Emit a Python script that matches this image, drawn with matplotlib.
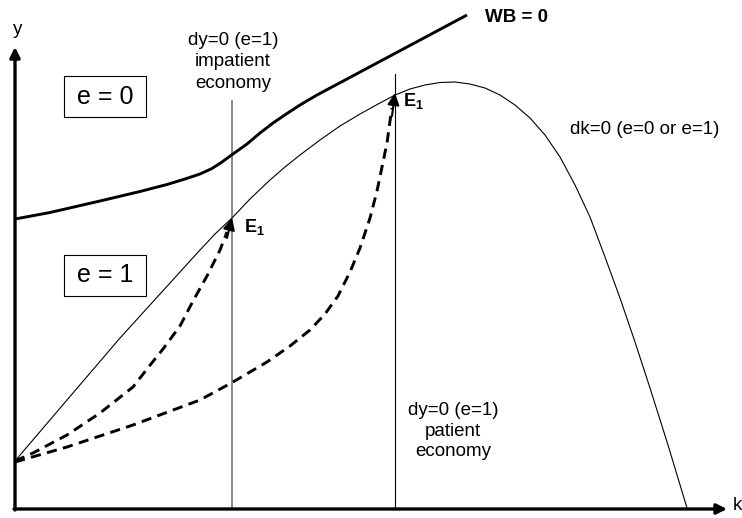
import matplotlib
matplotlib.use("Agg")
import matplotlib.pyplot as plt
from matplotlib.patches import Rectangle

plt.rcParams['font.family'] = ['Liberation Sans', 'DejaVu Sans']

# ---- data (pixel-like coordinates, y grows downward) ----
origin = (15, 509)
y_axis_top = 47
x_axis_right = 727

dk_x = [15, 67, 120, 160, 200, 215, 232, 250, 270, 285, 300, 320, 340, 360, 380, 395, 410, 425,
        440, 455, 470, 485, 500, 515, 530, 545, 560, 575, 590, 605, 620, 635, 650, 668, 687]
dk_y = [461, 400, 338, 294, 250, 234, 218, 199, 180, 167, 155, 140, 126, 114, 103, 95, 89, 85,
        82.5, 82, 84, 88, 95, 105, 118, 135, 157, 185, 217, 257, 298, 342, 388, 445, 508]

wb_x = [15, 50, 100, 140, 167, 185, 200, 212, 222, 233, 247, 260, 273, 287, 300, 317, 467]
wb_y = [219, 212.5, 201, 191.5, 184.5, 179, 174, 168.5, 162, 154, 144, 133, 123, 113.5, 105, 95, 15]

imp_x = [15, 33, 67, 100, 133, 147, 163, 180, 193, 207, 220, 227]
imp_y = [461, 453, 435, 413, 387, 369, 349, 326, 301, 276, 250, 232]
imp_tip = (232, 218)

pat_x = [15, 67, 133, 200, 233, 267, 290, 310, 325, 338, 350, 360, 370, 377, 382, 387, 390, 392]
pat_y = [462, 447, 425, 400, 382, 362, 346, 330, 314, 296, 272, 248, 218, 191, 167, 143, 121, 108]
pat_tip = (395, 93)

impatient_k = 232
impatient_top = 101
patient_k = 395
patient_top = 74

fig = plt.figure(figsize=(7.42, 5.18), dpi=100)
ax = fig.add_axes([0, 0, 1, 1])
ax.set_xlim(0, 742)
ax.set_ylim(518, 0)
ax.axis('off')

# axes with arrows
ax.annotate('', xy=(origin[0], y_axis_top), xytext=(origin[0], origin[1] + 1),
            arrowprops=dict(arrowstyle='-|>,head_length=0.6,head_width=0.3', lw=2.4, color='black',
                            shrinkA=0, shrinkB=0))
ax.annotate('', xy=(x_axis_right, origin[1]), xytext=(origin[0] - 1, origin[1]),
            arrowprops=dict(arrowstyle='-|>,head_length=0.6,head_width=0.3', lw=2.4, color='black',
                            shrinkA=0, shrinkB=0))
ax.text(18, 30, 'y', fontsize=13.5, ha='center', va='center')
ax.text(733, 506, 'k', fontsize=13.5, ha='left', va='center')

# vertical dy=0 lines
ax.plot([impatient_k, impatient_k], [impatient_top, origin[1]], color='#808080', lw=1.3)
ax.plot([patient_k, patient_k], [patient_top, origin[1]], color='black', lw=0.8)

# dk=0 curve
ax.plot(dk_x, dk_y, color='black', lw=0.8)

# WB = 0 curve
ax.plot(wb_x, wb_y, color='black', lw=2.1, solid_capstyle='butt', solid_joinstyle='round')

# dashed trajectories
ax.plot(imp_x, imp_y, color='black', lw=2.1, ls=(0, (3.5, 2.2)))
ax.plot(pat_x, pat_y, color='black', lw=2.1, ls=(0, (3.5, 2.2)))
ax.annotate('', xy=imp_tip, xytext=(imp_x[-1], imp_y[-1] + 6),
            arrowprops=dict(arrowstyle='-|>,head_length=0.7,head_width=0.35', lw=1.5, color='black',
                            shrinkA=0, shrinkB=0))
ax.annotate('', xy=pat_tip, xytext=(pat_x[-1], pat_y[-1] + 8),
            arrowprops=dict(arrowstyle='-|>,head_length=0.7,head_width=0.35', lw=1.5, color='black',
                            shrinkA=0, shrinkB=0))

# E1 labels
def e1(x, y):
    ax.text(x, y, 'E', fontsize=13, fontweight='bold', ha='left', va='center')
    ax.text(x + 11.5, y + 5, '1', fontsize=9, fontweight='bold', ha='left', va='center')

e1(245, 227)
e1(404, 101)

# boxes
for (bx, by, label) in [(64, 76, 'e = 0'), (64, 255, 'e = 1')]:
    ax.add_patch(Rectangle((bx, by), 82, 41, fill=False, edgecolor='black', lw=0.8))
    ax.text(bx + 41, by + 20.5, label, fontsize=18, ha='center', va='center')

# text labels
ax.text(233, 62, 'dy=0 (e=1)\nimpatient\neconomy', fontsize=13.5, ha='center', va='center',
        linespacing=1.34)
ax.text(453, 431, 'dy=0 (e=1)\npatient\neconomy', fontsize=13.5, ha='center', va='center',
        linespacing=1.3)
ax.text(570, 130, 'dk=0 (e=0 or e=1)', fontsize=13.5, ha='left', va='center')
ax.text(485, 17, 'WB = 0', fontsize=13.5, fontweight='bold', ha='left', va='center')

fig.savefig('out.png', dpi=100)
